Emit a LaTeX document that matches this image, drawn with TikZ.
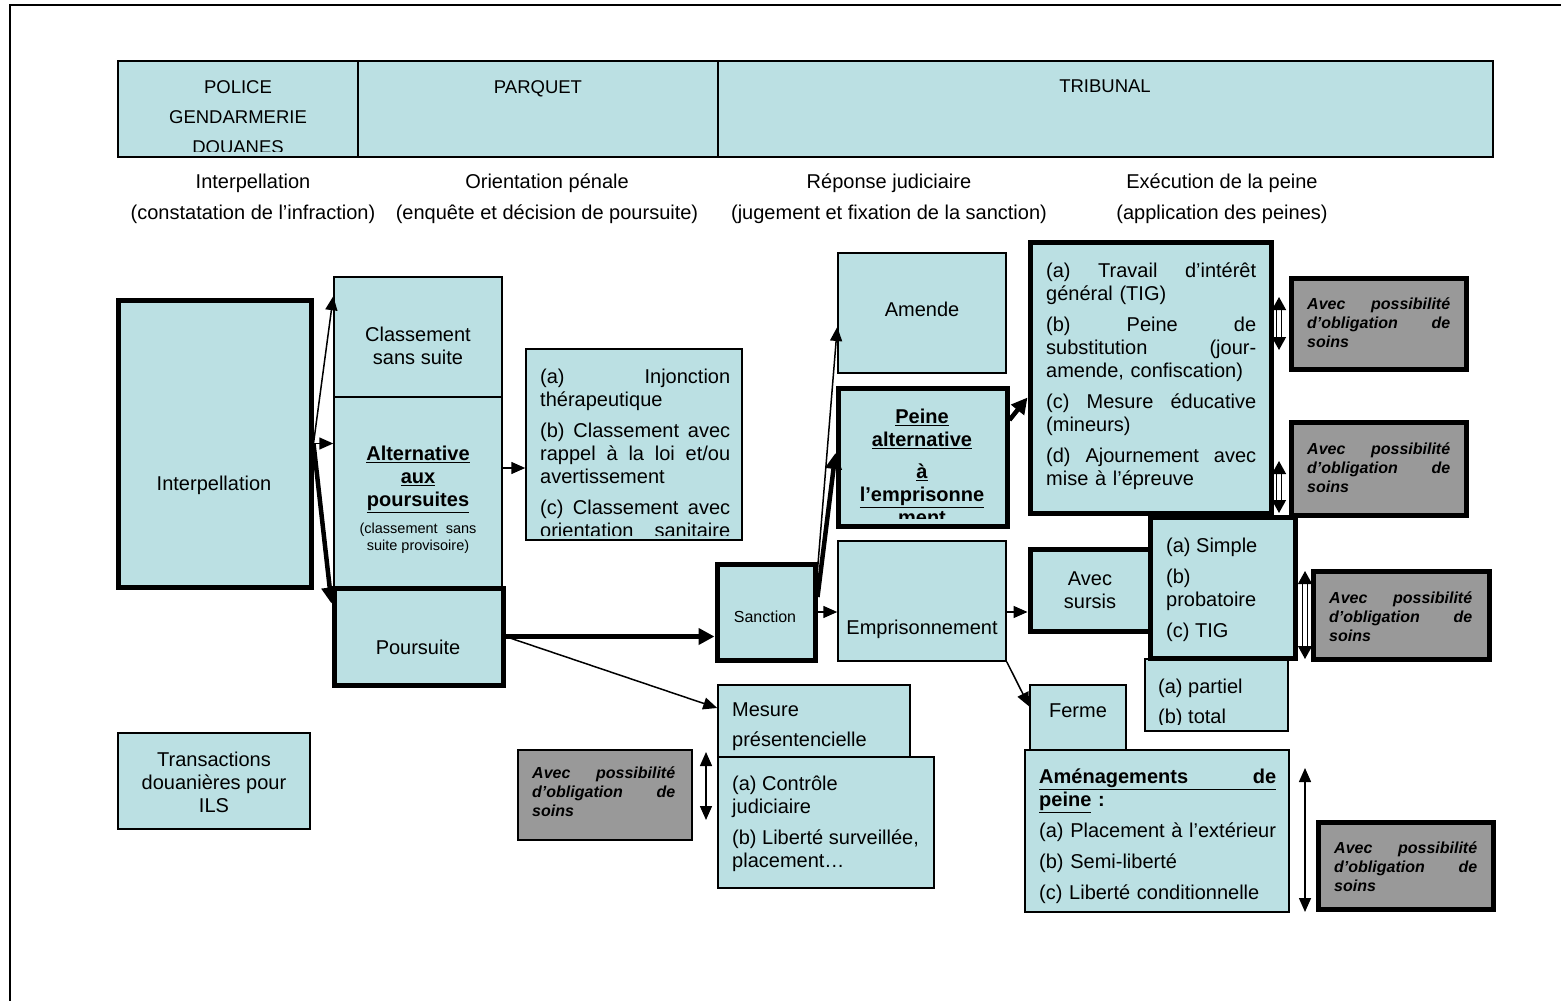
\documentclass[tikz,border=0pt]{standalone}
\usepackage{fontspec}
\setmainfont{Liberation Sans}
\usetikzlibrary{arrows.meta,positioning,fit}
\definecolor{Turquoise}{HTML}{BBE0E3}
\definecolor{GrisSoins}{HTML}{999999}

\newcommand{\txt}{\fontsize{20}{23}\selectfont}
\newcommand{\entete}{\fontsize{18.5}{30}\selectfont}
\newcommand{\colonne}{\fontsize{20}{31}\selectfont}
\newcommand{\petit}{\fontsize{14.5}{17}\selectfont}
\newcommand{\soins}{\fontsize{16}{19}\selectfont\bfseries\itshape}
\newcommand{\bu}[1]{\underline{\textbf{#1}}}
\newcommand{\jl}[1]{{\spaceskip=\fontdimen2\font plus 1fill\makebox[\hsize][s]{#1}}}

\begin{document}
\begin{tikzpicture}[
  x=1pt, y=-1pt,
  >={Triangle[length=14pt,width=12pt]},
  cadre/.style={draw, fill=Turquoise, line width=1.5pt, inner sep=0pt},
  cadregras/.style={cadre, line width=5pt},
  gris/.style={draw, fill=GrisSoins, line width=5pt, inner sep=0pt},
  texte/.style={inner sep=0pt, anchor=north, align=center, font=\txt},
  liste/.style={inner sep=0pt, anchor=north west, align=left, font=\txt},
  lignesoins/.style={liste, font=\soins, text width=143},
  fleche/.style={->, line width=1.5pt},
  flechegrasse/.style={-{Triangle[length=16pt,width=16pt]}, line width=4.5pt},
  soinsdouble/.style={{Triangle[length=13pt,width=14pt]}-{Triangle[length=13pt,width=14pt]},
    double, double distance=3.5pt, line width=1.3pt},
  soinssimple/.style={<->, line width=1.5pt}
]
  \useasboundingbox (0,0) rectangle (1561,1001);
  \draw[line width=1.5pt] (10,1001) -- (10,5) -- (1561,5);

  % Bandeau des acteurs
  \node[cadre, fit={(118,61) (358,157)}] (police) {};
  \node[cadre, fit={(358,61) (718,157)}] (parquet) {};
  \node[cadre, fit={(718,61) (1493,157)}] (tribunal) {};
  \begin{scope}
    \clip (119,62) rectangle (357,151);
    \node[texte, font=\entete] at (238,80) {POLICE\\GENDARMERIE\\DOUANES};
  \end{scope}
  \node[texte, font=\entete] at (538,80) {PARQUET};
  \node[texte, font=\entete] at (1105,80) {TRIBUNAL};

  \node[texte, font=\colonne] at (253,174) {Interpellation\\(constatation de l’infraction)};
  \node[texte, font=\colonne] at (547,174) {Orientation pénale\\(enquête et décision de poursuite)};
  \node[texte, font=\colonne] at (889,174) {Réponse judiciaire\\(jugement et fixation de la sanction)};
  \node[texte, font=\colonne] at (1222,174) {Exécution de la peine\\(application des peines)};

  % Police et parquet
  \node[cadregras, fit={(118,300) (311,587)}] (interp) {};
  \node[texte] at (214,476) {Interpellation};

  \node[cadre, fit={(334,277) (502,397)}] (css) {};
  \node[texte] at (418,327) {Classement\\sans suite};

  \node[cadre, fit={(334,397) (502,588)}] (alt) {};
  \node[texte] at (418,446) {\bu{Alternative}\\\bu{aux}\\\bu{poursuites}};
  \node[texte, font=\petit] at (418,523) {(classement~~sans\\suite provisoire)};

  \node[cadregras, fit={(334,588) (503,685)}] (pours) {};
  \node[texte] at (418,640) {Poursuite};

  \node[cadre, fit={(526,349) (742,540)}] (inj) {};
  \begin{scope}
    \clip (527,350) rectangle (741,535);
    \node[liste, text width=190] at (540,369) {\jl{(a) Injonction}\\ thérapeutique\\[8pt]
      \jl{(b) Classement avec}\\ \jl{rappel à la loi et/ou}\\ avertissement\\[8pt]
      \jl{(c) Classement avec}\\ \jl{orientation sanitaire}};
  \end{scope}

  \node[cadre, fit={(118,733) (310,829)}] (trans) {};
  \node[texte] at (214,752) {Transactions\\douanières pour\\ILS};

  % Tribunal
  \node[cadregras, fit={(717,564) (815,660)}] (sanc) {};
  \node[texte, font=\fontsize{16}{19}\selectfont] at (765,611) {Sanction};

  \node[cadre, fit={(838,253) (1006,373)}] (amende) {};
  \node[texte] at (922,302) {Amende};

  \node[cadregras, fit={(838,388) (1007,526)}] (palt) {};
  \begin{scope}
    \clip (841,391) rectangle (1004,518);
    \node[texte] at (922,409) {\bu{Peine}\\\bu{alternative}\\[9pt]\bu{à}\\\bu{l’emprisonne}\\\bu{ment}};
  \end{scope}

  \node[cadre, fit={(838,541) (1006,661)}] (empr) {};
  \node[texte] at (922,620) {Emprisonnement};

  \node[cadre, fit={(718,685) (910,757)}] (mesure) {};
  \node[liste] at (732,703) {Mesure\\[7pt]présentencielle};
  \node[cadre, fit={(718,757) (934,888)}] (controle) {};
  \node[liste] at (732,776) {(a) Contrôle\\judiciaire\\[8pt](b) Liberté surveillée,\\placement…};

  \node[gris, line width=1.5pt, fit={(518,750) (692,840)}] (soins5) {};
  \node[lignesoins] at (532,767) {\jl{Avec possibilité}\\ \jl{d’obligation de}\\ soins};

  % Exécution de la peine
  \node[cadregras, fit={(1030,242) (1271,513)}] (tig) {};
  \node[liste, text width=210] at (1046,263) {\jl{(a) Travail d’intérêt}\\ général (TIG)\\[8pt]
    \jl{(b) Peine de}\\ \jl{substitution (jour-}\\ amende, confiscation)\\[8pt]
    \jl{(c) Mesure éducative}\\ (mineurs)\\[8pt]
    \jl{(d) Ajournement avec}\\ mise à l’épreuve};

  \node[gris, fit={(1291,278) (1466,369)}] (soins1) {};
  \node[lignesoins] at (1307,298) {\jl{Avec possibilité}\\ \jl{d’obligation de}\\ soins};
  \node[gris, fit={(1291,422) (1466,515)}] (soins2) {};
  \node[lignesoins] at (1307,443) {\jl{Avec possibilité}\\ \jl{d’obligation de}\\ soins};

  \node[cadre, fit={(1145,659) (1288,731)}] (partiel) {};
  \begin{scope}
    \clip (1146,660) rectangle (1287,724);
    \node[liste] at (1158,679) {(a) partiel\\[7pt](b) total};
  \end{scope}

  \node[cadregras, fit={(1030,549) (1150,631)}] (sursis) {};
  \node[texte] at (1090,572) {Avec\\sursis};
  \node[cadregras, fit={(1150,517) (1295,658)}] (simple) {};
  \node[liste] at (1166,538) {(a) Simple\\[8pt](b)\\probatoire\\[8pt](c) TIG};

  \node[gris, fit={(1313,571) (1489,659)}] (soins3) {};
  \node[lignesoins] at (1329,592) {\jl{Avec possibilité}\\ \jl{d’obligation de}\\ soins};

  \node[cadre, fit={(1030,685) (1126,750)}] (ferme) {};
  \node[texte] at (1078,704) {Ferme};

  \node[cadre, fit={(1025,750) (1289,912)}] (amen) {};
  \node[liste, text width=237] at (1039,769)
    {\underline{\makebox[\hsize][s]{\textbf{Aménagements\hfill de}}}\\ \textbf{\underline{peine} :}\\[8pt]
     (a) Placement à l’extérieur\\[8pt] (b) Semi-liberté\\[8pt] (c) Liberté conditionnelle};

  \node[gris, fit={(1318,822) (1493,909)}] (soins4) {};
  \node[lignesoins] at (1334,842) {\jl{Avec possibilité}\\ \jl{d’obligation de}\\ soins};

  % Liaisons
  \draw[fleche] (interp.east) -- ([yshift=-20pt]css.north west);
  \draw[fleche] (interp.east) -- (interp.east -| alt.west);
  \draw[flechegrasse] (interp.east) -- ([yshift=-18pt]pours.north west);
  \draw[fleche] ([yshift=24.5pt]alt.east) -- ([yshift=24.5pt]alt.east -| inj.west);
  \draw[flechegrasse] (pours.east) -- (pours.east -| sanc.west);
  \draw[fleche] (pours.east) -- ([yshift=13pt]mesure.west);
  \draw[fleche] ([yshift=42pt]sanc.east) -- ([yshift=-14pt]amende.west);
  \draw[flechegrasse] ([yshift=15pt]sanc.east) -- ([yshift=4pt]palt.west);
  \draw[fleche] (sanc.east) -- (sanc.east -| empr.west);
  \draw[flechegrasse] ([yshift=37pt]palt.east) -- ([yshift=-20pt]tig.west);
  \draw[fleche] ([yshift=-11pt]empr.east) -- ([yshift=-11pt]empr.east -| sursis.west);
  \draw[fleche] (empr.south east) -- ([yshift=11pt]ferme.west);

  % Obligation de soins
  \draw[soinsdouble] (1279,297) -- (1279,350);
  \draw[soinsdouble] (1279,461) -- (1279,513);
  \draw[soinsdouble] (1305,571) -- (1305,659);
  \draw[soinssimple] (706,752) -- (706,820);
  \draw[soinssimple] (1305,768) -- (1305,912);
\end{tikzpicture}
\end{document}
